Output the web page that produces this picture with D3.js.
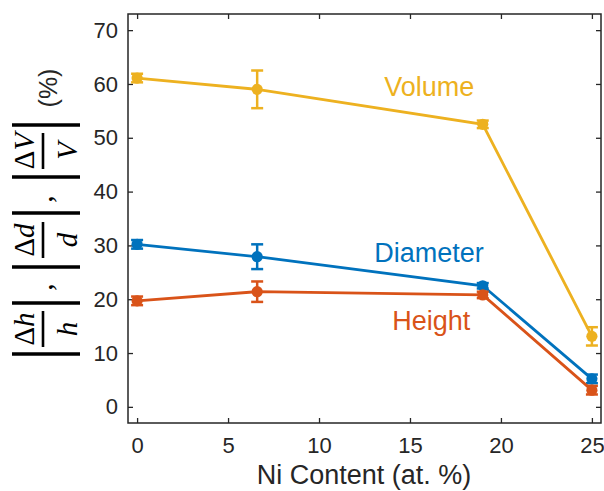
<!DOCTYPE html>
<html>
<head>
<meta charset="utf-8">
<script src="https://cdn.jsdelivr.net/npm/d3@7"></script>
<style>
body { margin: 0; background: #fff; }
text { font-family: Arial, "Liberation Sans", sans-serif; fill: #262626; }
.math { font-family: "Liberation Serif", "DejaVu Serif", serif; font-style: italic; }
</style>
</head>
<body>
<svg width="604" height="491"></svg>
<script>
// data
var niContent = [0, 6.6, 19, 25];
var volume = [61.1, 59.0, 52.5, 13.1];
var volumeErr = [0.8, 3.5, 0.7, 1.7];
var diameter = [30.2, 27.9, 22.5, 5.2];
var diameterErr = [0.8, 2.3, 0.5, 0.8];
var height = [19.7, 21.4, 20.8, 3.1];
var heightErr = [0.8, 1.9, 0.6, 0.8];
var xTicks = [0, 5, 10, 15, 20, 25];
var yTicks = [0, 10, 20, 30, 40, 50, 60, 70];

var series = [
	{name: "Volume", values: volume, err: volumeErr, color: "#EDB120", lx: 13.58, ly: 57.8},
	{name: "Diameter", values: diameter, err: diameterErr, color: "#0072BD", lx: 13.03, ly: 26.9},
	{name: "Height", values: height, err: heightErr, color: "#D95319", lx: 14.02, ly: 14.3}
];

var svg = d3.select("svg");
var pLeft = 128, pRight = 601, pTop = 14, pBottom = 423;

var x = d3.scaleLinear().domain([-0.5, 25.5]).range([pLeft, pRight]);
var y = d3.scaleLinear().domain([-3, 73]).range([pBottom, pTop]);

// box + inward ticks on all sides
var tk = 5;
svg.append("g").attr("transform", "translate(0," + pBottom + ")")
	.call(d3.axisBottom(x).tickValues(xTicks).tickSizeInner(-tk).tickSizeOuter(0).tickPadding(14))
	.call(function(g){ g.selectAll("text").attr("font-size", 22); });
svg.append("g").attr("transform", "translate(0," + pTop + ")")
	.call(d3.axisTop(x).tickValues(xTicks).tickSizeInner(-tk).tickSizeOuter(0).tickFormat(""));
svg.append("g").attr("transform", "translate(" + pLeft + ",0)")
	.call(d3.axisLeft(y).tickValues(yTicks).tickSizeInner(-tk).tickSizeOuter(0).tickPadding(10))
	.call(function(g){ g.selectAll("text").attr("font-size", 22); });
svg.append("g").attr("transform", "translate(" + pRight + ",0)")
	.call(d3.axisRight(y).tickValues(yTicks).tickSizeInner(-tk).tickSizeOuter(0).tickFormat(""));
svg.selectAll(".domain").remove();
svg.selectAll(".tick line").attr("stroke", "#262626").attr("stroke-width", 1.3);
svg.selectAll(".tick text").attr("fill", null).attr("font-family", null);
svg.append("rect").attr("x", pLeft).attr("y", pTop)
	.attr("width", pRight - pLeft).attr("height", pBottom - pTop)
	.attr("fill", "none").attr("stroke", "#262626").attr("stroke-width", 1.5);

// lines, error bars, markers
var line = d3.line().x(function(d){ return x(d.x); }).y(function(d){ return y(d.y); });
var capW = 6;
series.forEach(function(s){
	var pts = niContent.map(function(v, i){ return {x: v, y: s.values[i], e: s.err[i]}; });
	var g = svg.append("g");
	g.append("path").datum(pts).attr("d", line)
		.attr("fill", "none").attr("stroke", s.color).attr("stroke-width", 2.8);
	var eb = g.selectAll("g.eb").data(pts).enter().append("g")
		.attr("stroke", s.color).attr("stroke-width", 2.5);
	eb.append("line")
		.attr("x1", function(d){ return x(d.x); }).attr("x2", function(d){ return x(d.x); })
		.attr("y1", function(d){ return y(d.y - d.e); }).attr("y2", function(d){ return y(d.y + d.e); });
	eb.append("line")
		.attr("x1", function(d){ return x(d.x) - capW; }).attr("x2", function(d){ return x(d.x) + capW; })
		.attr("y1", function(d){ return y(d.y + d.e); }).attr("y2", function(d){ return y(d.y + d.e); });
	eb.append("line")
		.attr("x1", function(d){ return x(d.x) - capW; }).attr("x2", function(d){ return x(d.x) + capW; })
		.attr("y1", function(d){ return y(d.y - d.e); }).attr("y2", function(d){ return y(d.y - d.e); });
	g.selectAll("circle").data(pts).enter().append("circle")
		.attr("cx", function(d){ return x(d.x); }).attr("cy", function(d){ return y(d.y); })
		.attr("r", 5.6).attr("fill", s.color);
	svg.append("text").attr("x", x(s.lx)).attr("y", y(s.ly))
		.attr("font-size", 27).style("fill", s.color).text(s.name);
});

// x title
svg.append("text").attr("x", 364).attr("y", 484)
	.attr("text-anchor", "middle").attr("font-size", 27).text("Ni Content (at. %)");

// y title: |Δh/h| , |Δd/d| , |ΔV/V| (%)  rotated
var yl = svg.append("g").attr("transform", "rotate(-90)");
var fracs = [
	{num: "h", den: "h", c: 329, a: 303, b: 354},
	{num: "d", den: "d", c: 240, a: 213, b: 267},
	{num: "V", den: "V", c: 151, a: 125, b: 177}
];
fracs.forEach(function(f){
	var t = yl.append("text").attr("class", "math").attr("x", -f.c).attr("y", 34)
		.attr("text-anchor", "middle").attr("font-size", 29).style("fill", "#000");
	t.append("tspan").style("font-style", "normal").text("Δ");
	t.append("tspan").text(f.num);
	yl.append("text").attr("class", "math").attr("x", -f.c).attr("y", 77)
		.attr("text-anchor", "middle").attr("font-size", 29).style("fill", "#000").text(f.den);
	yl.append("line").attr("x1", -(f.c - 18)).attr("x2", -(f.c + 18))
		.attr("y1", 43).attr("y2", 43).attr("stroke", "#000").attr("stroke-width", 2.6);
	[f.a, f.b].forEach(function(p){
		yl.append("line").attr("x1", -p).attr("x2", -p)
			.attr("y1", 12).attr("y2", 80).attr("stroke", "#000").attr("stroke-width", 3.4);
	});
});
[287, 199].forEach(function(p){
	yl.append("text").attr("class", "math").attr("x", -p).attr("y", 52)
		.attr("text-anchor", "middle").attr("font-size", 29).style("fill", "#000").text(",");
});
yl.append("text").attr("x", -88).attr("y", 57).attr("text-anchor", "middle")
	.attr("font-size", 25).style("fill", "#262626").text("(%)");
</script>
</body>
</html>
